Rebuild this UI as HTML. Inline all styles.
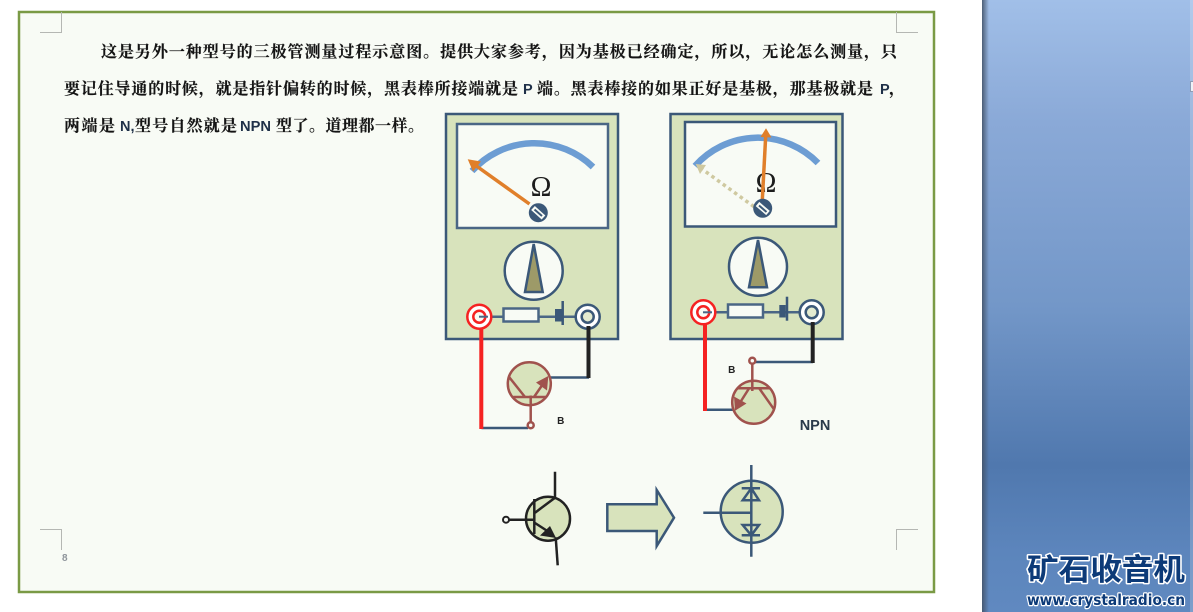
<!DOCTYPE html>
<html lang="zh">
<head>
<meta charset="utf-8">
<title>三极管测量过程示意图</title>
<style>
html,body{margin:0;padding:0;background:#fff;width:1193px;height:612px;overflow:hidden}
svg{display:block}
.cn{font-family:"Liberation Serif","Noto Serif CJK SC",serif;font-size:16px;font-weight:700;fill:#141414;stroke:#141414;stroke-width:.15}
.la{font-family:"Liberation Sans",sans-serif;font-size:14.5px;font-weight:700;fill:#1f3048}
</style>
</head>
<body>
<svg width="1193" height="612" viewBox="0 0 1193 612" xmlns="http://www.w3.org/2000/svg">
<defs>
<linearGradient id="side" x1="0" y1="0" x2="0" y2="1">
<stop offset="0" stop-color="#a1bfe8"/>
<stop offset="0.2" stop-color="#8aa9d7"/>
<stop offset="0.5" stop-color="#7397c8"/>
<stop offset="0.76" stop-color="#5078ae"/>
<stop offset="0.9" stop-color="#5c85bc"/>
<stop offset="1" stop-color="#6089c0"/>
</linearGradient>
<linearGradient id="shade" x1="0" y1="0" x2="1" y2="0">
<stop offset="0" stop-color="#44546a" stop-opacity=".9"/>
<stop offset="1" stop-color="#44546a" stop-opacity="0"/>
</linearGradient>
</defs>

<rect width="1193" height="612" fill="#fff"/>

<!-- sidebar -->
<rect x="982" y="0" width="211" height="612" fill="url(#side)"/>
<rect x="982" y="0" width="7" height="612" fill="url(#shade)"/>
<rect x="1190" y="0" width="3" height="612" fill="#fff" opacity=".18"/>
<rect x="1190.5" y="81.5" width="3" height="10" fill="#eef2f8" stroke="#8d9db5"/>
<text x="1027" y="580" textLength="158" lengthAdjust="spacingAndGlyphs" font-family="'Liberation Sans','WenQuanYi Zen Hei','Noto Sans CJK SC',sans-serif" font-size="30" font-weight="700" fill="#0c3a78" stroke="#fff" stroke-width="3" paint-order="stroke" stroke-linejoin="round">矿石收音机</text>
<text x="1027" y="605" textLength="158" lengthAdjust="spacingAndGlyphs" font-family="'DejaVu Sans',sans-serif" font-size="15" font-weight="700" fill="#0c3a78" stroke="#fff" stroke-width="2.5" paint-order="stroke" stroke-linejoin="round">www.crystalradio.cn</text>

<!-- page -->
<rect x="19" y="12" width="915" height="580" fill="#f8fbf5" stroke="#7a9a45" stroke-width="2.5"/>
<g fill="none" stroke="#b5b7b3" stroke-width="1">
<path d="M61.5 12V32.5H40"/>
<path d="M896.5 12V32.5H918"/>
<path d="M40 529.5H61.5V550"/>
<path d="M918 529.5H896.5V550"/>
</g>
<text x="62" y="561" font-family="'Liberation Sans',sans-serif" font-size="10" font-weight="700" fill="#8f959b">8</text>

<!-- text -->
<text class="cn" x="101" y="57" textLength="796" lengthAdjust="spacing">这是另外一种型号的三极管测量过程示意图。提供大家参考，因为基极已经确定，所以，无论怎么测量，只</text>
<text class="cn" x="64" y="94" textLength="454" lengthAdjust="spacing">要记住导通的时候，就是指针偏转的时候，黑表棒所接端就是</text>
<text class="la" x="523" y="94">P</text>
<text class="cn" x="537" y="94" textLength="336" lengthAdjust="spacing">端。黑表棒接的如果正好是基极，那基极就是</text>
<text class="la" x="880" y="94">P</text>
<text class="cn" x="889" y="94">，</text>
<text class="cn" x="64" y="131" textLength="51" lengthAdjust="spacing">两端是</text>
<text class="la" x="120" y="131">N,</text>
<text class="cn" x="135" y="131" textLength="102" lengthAdjust="spacing">型号自然就是</text>
<text class="la" x="240" y="131" textLength="31" lengthAdjust="spacingAndGlyphs">NPN</text>
<text class="cn" x="276" y="131" textLength="148" lengthAdjust="spacing">型了。道理都一样。</text>

<!-- Meter 1 -->
<rect x="446" y="114" width="172" height="225" fill="#d8e3bc" stroke="#3b5878" stroke-width="2.5"/>
<rect x="457" y="124" width="151" height="104" fill="#f8fbf5" stroke="#4a6685" stroke-width="2.5"/>
<path d="M472 171A84 84 0 0 1 593 167" fill="none" stroke="#6d9dd3" stroke-width="6.5"/>
<text x="541" y="196" text-anchor="middle" font-family="'Liberation Serif',serif" font-size="28" fill="#1c1c1c">Ω</text>
<path d="M529.500 204L475 165" stroke="#e07f2a" stroke-width="3.500" fill="none"/>
<polygon points="467.700,159.300 481,161.500 473,171.500" fill="#e07f2a"/>
<circle cx="538.300" cy="212.700" r="9.500" fill="#3b5878"/>
<path d="M533 208L543.500 217.500" stroke="#f8fbf5" stroke-width="5.500"/>
<path d="M534.500 209.500L542 216" stroke="#3b5878" stroke-width="2"/>
<circle cx="533.700" cy="270.700" r="29" fill="#f8fbf5" stroke="#3b5878" stroke-width="2.500"/>
<polygon points="533.700,244 525,292 542.700,292" fill="#9d9a68" stroke="#3b5878" stroke-width="2.500"/>
<path d="M479 316.700H588" stroke="#4a6685" stroke-width="2.500"/>
<rect x="503.500" y="308.500" width="35" height="13" fill="#f8fbf5" stroke="#4a6685" stroke-width="2.500"/>
<rect x="555" y="309" width="6.500" height="12.500" fill="#3b5878"/>
<path d="M562.700 301V325" stroke="#3b5878" stroke-width="2.500"/>
<circle cx="479.300" cy="316.700" r="12" fill="#fff" stroke="#f52222" stroke-width="2.500"/>
<circle cx="479.300" cy="316.700" r="6" fill="#f8fbf5" stroke="#f52222" stroke-width="2.500"/>
<path d="M479 316.700H488" stroke="#4a6685" stroke-width="2"/>
<circle cx="587.700" cy="316.700" r="12" fill="#fff" stroke="#3b5878" stroke-width="2.500"/>
<circle cx="587.700" cy="316.700" r="6" fill="#e4ebd0" stroke="#3b5878" stroke-width="2.500"/>

<!-- Meter 2 -->
<rect x="670.500" y="114" width="172" height="225" fill="#d8e3bc" stroke="#3b5878" stroke-width="2.500"/>
<rect x="685" y="122" width="151" height="104.500" fill="#f8fbf5" stroke="#3b5878" stroke-width="2.500"/>
<path d="M695 166A84 84 0 0 1 818 163" fill="none" stroke="#6d9dd3" stroke-width="6.500"/>
<text x="766" y="192" text-anchor="middle" font-family="'Liberation Serif',serif" font-size="28" fill="#1c1c1c">Ω</text>
<path d="M754 206.700L702 169" stroke="#cfc9a0" stroke-width="3.500" stroke-dasharray="3.500 3.500" fill="none"/>
<polygon points="695.700,164 706,165 700,174" fill="#cfc9a0"/>
<path d="M762.300 200L765.700 136" stroke="#e07f2a" stroke-width="3.500" fill="none"/>
<polygon points="766,128.300 771.500,137.500 760.500,137" fill="#e07f2a"/>
<circle cx="762.700" cy="208.300" r="9.500" fill="#3b5878"/>
<path d="M757.500 204L768 213" stroke="#f8fbf5" stroke-width="5.500"/>
<path d="M759 205.500L766.500 212" stroke="#3b5878" stroke-width="2"/>
<circle cx="758" cy="266.700" r="29" fill="#f8fbf5" stroke="#3b5878" stroke-width="2.500"/>
<polygon points="758,240 749,287.300 767,287.300" fill="#9d9a68" stroke="#3b5878" stroke-width="2.500"/>
<path d="M703 312.300H812" stroke="#4a6685" stroke-width="2.500"/>
<rect x="728" y="304.500" width="35" height="13" fill="#f8fbf5" stroke="#4a6685" stroke-width="2.500"/>
<rect x="779.300" y="305" width="6.500" height="12.500" fill="#3b5878"/>
<path d="M787 296.700V320.700" stroke="#3b5878" stroke-width="2.500"/>
<circle cx="703.300" cy="312.300" r="12" fill="#fff" stroke="#f52222" stroke-width="2.500"/>
<circle cx="703.300" cy="312.300" r="6" fill="#f8fbf5" stroke="#f52222" stroke-width="2.500"/>
<path d="M703 312.300H712" stroke="#4a6685" stroke-width="2"/>
<circle cx="811.700" cy="312.300" r="12" fill="#fff" stroke="#3b5878" stroke-width="2.500"/>
<circle cx="811.700" cy="312.300" r="6" fill="#e4ebd0" stroke="#3b5878" stroke-width="2.500"/>

<!-- wires -->
<path d="M481.500 428H528M550 377.500H589" fill="none" stroke="#3b5878" stroke-width="2.500"/>
<path d="M481.300 329V429" stroke="#f52222" stroke-width="4"/>
<path d="M588.500 326V378" stroke="#222" stroke-width="4"/>
<path d="M755 362H813M705 409.700H733" fill="none" stroke="#3b5878" stroke-width="2.500"/>
<path d="M705 325V411" stroke="#f52222" stroke-width="4"/>
<path d="M812.700 322V363" stroke="#222" stroke-width="4"/>

<!-- Transistor 1 -->
<circle cx="529.300" cy="383.700" r="21.500" fill="#d8e3bc" stroke="#a0524d" stroke-width="2.500"/>
<g stroke="#a0524d" stroke-width="2.500" fill="none">
<path d="M513.300 397H546"/>
<path d="M530.700 395.500V422.500"/>
<path d="M509.300 377.300L525 397"/>
<path d="M534 397L545 381"/>
</g>
<polygon points="548.300,376 547,390.500 536,382.500" fill="#a0524d"/>
<circle cx="530.700" cy="425.300" r="3" fill="#f8fbf5" stroke="#a0524d" stroke-width="2.500"/>

<!-- Transistor 2 -->
<circle cx="753.700" cy="402.300" r="21.500" fill="#d8e3bc" stroke="#a0524d" stroke-width="2.500"/>
<g stroke="#a0524d" stroke-width="2.500" fill="none">
<path d="M738 388.300H769"/>
<path d="M752.300 363.500V391"/>
<path d="M749.300 388L738.500 405"/>
<path d="M759 388L774 409.300"/>
</g>
<polygon points="735,410.700 734,396.500 746.500,403.500" fill="#a0524d"/>
<circle cx="752.300" cy="360.700" r="3" fill="#f8fbf5" stroke="#a0524d" stroke-width="2.500"/>

<!-- labels -->
<text x="560.700" y="424" text-anchor="middle" font-family="'Liberation Sans',sans-serif" font-size="10" font-weight="700" fill="#222">B</text>
<text x="731.700" y="373" text-anchor="middle" font-family="'Liberation Sans',sans-serif" font-size="10" font-weight="700" fill="#222">B</text>
<text x="815" y="430" text-anchor="middle" font-family="'Liberation Sans',sans-serif" font-size="14.500" font-weight="700" fill="#2a3a4a">NPN</text>

<!-- Bottom transistor -->
<circle cx="548" cy="518.700" r="22" fill="#d8e3bc" stroke="#222" stroke-width="2.500"/>
<g stroke="#222" stroke-width="2.500" fill="none">
<path d="M555 471.700V497.700L535 512.700"/>
<path d="M534.300 499V534"/>
<path d="M509 519.700H534.300"/>
<path d="M535 523L552 534"/>
<path d="M555.700 537.300L557.700 565.300"/>
</g>
<polygon points="556,538 540,535.500 550,526" fill="#222"/>
<circle cx="506" cy="519.700" r="3" fill="#f8fbf5" stroke="#222" stroke-width="2"/>

<!-- Block arrow -->
<polygon points="607.300,504.300 656.700,504.300 656.700,490 674,517.700 656.700,546 656.700,531 607.300,531" fill="#d8e3bc" stroke="#3b5878" stroke-width="2.500"/>

<!-- Equivalent diodes -->
<circle cx="751.700" cy="511.700" r="31" fill="#d8e3bc" stroke="#3b5878" stroke-width="2.500"/>
<g stroke="#3b5878" stroke-width="2.500" fill="none">
<path d="M751.300 465V556.700"/>
<path d="M703.300 512.700H751"/>
<path d="M741.700 488.300H760"/>
<polygon points="742.700,500.300 759,500.300 751.300,488.300"/>
<path d="M741.700 535.300H760"/>
<polygon points="742.700,525 759,525 751.300,535.300"/>
</g>
</svg>
</body>
</html>
